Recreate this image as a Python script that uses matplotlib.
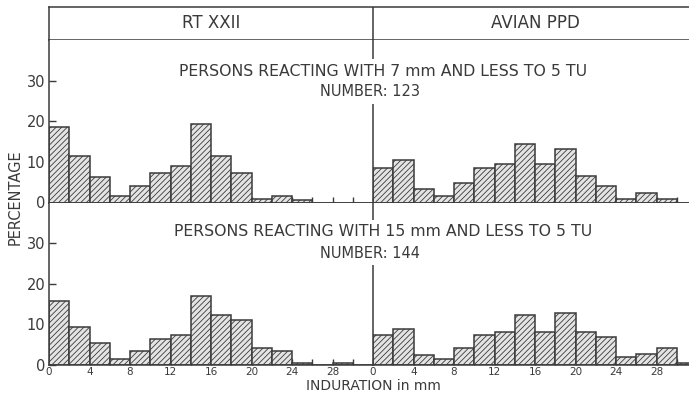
import numpy as np
import matplotlib
matplotlib.use("Agg")
import matplotlib.pyplot as plt

# Induration classes, 2 mm wide, left edges in mm.
bin_width = 2
bin_edges = np.arange(0, 32, bin_width)

column_titles = ["RT XXII", "AVIAN PPD"]
row_titles = ["PERSONS REACTING WITH 7 mm AND LESS TO 5 TU",
              "PERSONS REACTING WITH 15 mm AND LESS TO 5 TU"]
row_numbers = ["NUMBER: 123", "NUMBER: 144"]

# Percentage of persons in each class.
rt_7mm = [18.7, 11.4, 6.3, 1.6, 4.1, 7.3, 9.0, 19.4, 11.4, 7.2,
          0.8, 1.5, 0.7, 0.0, 0.0, 0.0]
avian_7mm = [8.5, 10.5, 3.3, 1.6, 4.8, 8.5, 9.6, 14.5, 9.6, 13.1,
             6.5, 4.1, 0.8, 2.4, 0.8, 0.0]
rt_15mm = [15.7, 9.3, 5.4, 1.4, 3.4, 6.3, 7.3, 17.1, 12.2, 11.0,
           4.1, 3.4, 0.4, 0.0, 0.5, 0.0]
avian_15mm = [7.3, 8.8, 2.5, 1.4, 4.1, 7.3, 8.1, 12.2, 8.1, 12.9,
              8.1, 6.8, 1.9, 2.6, 4.1, 0.5]

panels = [[rt_7mm, avian_7mm], [rt_15mm, avian_15mm]]

INK = "#3a3a3a"
plt.rcParams["font.family"] = "DejaVu Sans"
plt.rcParams["hatch.linewidth"] = 0.6
plt.rcParams["hatch.color"] = "#555555"

W, H = 689, 397
fig = plt.figure(figsize=(W / 100, H / 100), dpi=100)


def fx(px):
    return px / W


def fy(px):
    return 1 - px / H


x_left, x_mid = 49, 373
col_w = x_mid - x_left
y_top, y_head, y_mid, y_bot = 7, 40, 202.5, 365

# Column header strip.
head = fig.add_axes([fx(x_left), fy(y_head), fx(2 * col_w), (y_head - y_top) / H])
head.set_xlim(0, 2)
head.set_ylim(0, 1)
head.set_xticks([])
head.set_yticks([])
for sp in head.spines.values():
    sp.set_color(INK)
    sp.set_linewidth(1.1)
head.axvline(1, color=INK, lw=1.1)
for k, title in enumerate(column_titles):
    head.text(k + 0.5, 0.5, title, ha="center", va="center",
              fontsize=12, color=INK)

row_bounds = [(y_head, y_mid), (y_mid, y_bot)]
for r, (top_px, bot_px) in enumerate(row_bounds):
    for c in range(2):
        ax = fig.add_axes([fx(x_left + c * col_w), fy(bot_px),
                           fx(col_w), (bot_px - top_px) / H])
        ax.bar(bin_edges, panels[r][c], width=bin_width, align="edge",
               facecolor="#e4e4e4", edgecolor=INK, linewidth=1.1,
               hatch="//////", zorder=2)
        ax.set_xlim(0, 32)
        ax.set_ylim(0, 40)
        for side in ["top", "right"]:
            ax.spines[side].set_visible(False)
        for side in ["left", "bottom"]:
            ax.spines[side].set_color(INK)
            ax.spines[side].set_linewidth(1.1)
            ax.spines[side].set_zorder(3)

        ax.set_xticks(bin_edges)
        labels = [str(v) if v % 4 == 0 else "" for v in bin_edges]
        ax.set_xticklabels(labels if r == 1 else [""] * len(bin_edges))
        ax.tick_params(axis="x", direction="in", length=4, width=1,
                       color=INK, labelsize=7.5, labelcolor=INK, pad=1.5)

        if c == 0:
            ax.set_yticks([0, 10, 20, 30])
            ax.tick_params(axis="y", direction="in", length=5, width=1,
                           color=INK, labelsize=10.5, labelcolor=INK, pad=2.5)
        else:
            ax.set_yticks([])

# Row captions sit over the divider line, blanking it behind the text.
caption_y = [(71, 92), (232, 253)]
box = dict(facecolor="white", edgecolor="none", pad=3)
for r in range(2):
    fig.text(fx(383), fy(caption_y[r][0]), row_titles[r], ha="center",
             va="center", fontsize=11.3, color=INK, bbox=box, zorder=5)
    fig.text(fx(370), fy(caption_y[r][1]), row_numbers[r], ha="center",
             va="center", fontsize=10.5, color=INK, bbox=box, zorder=5)

fig.text(fx(15), fy(197), "PERCENTAGE", rotation=90, ha="center",
         va="center", fontsize=10.5, color=INK)
fig.text(fx(373), fy(386), "INDURATION in mm", ha="center", va="center",
         fontsize=10, color=INK)

fig.savefig("out.png", dpi=100, facecolor="white")
